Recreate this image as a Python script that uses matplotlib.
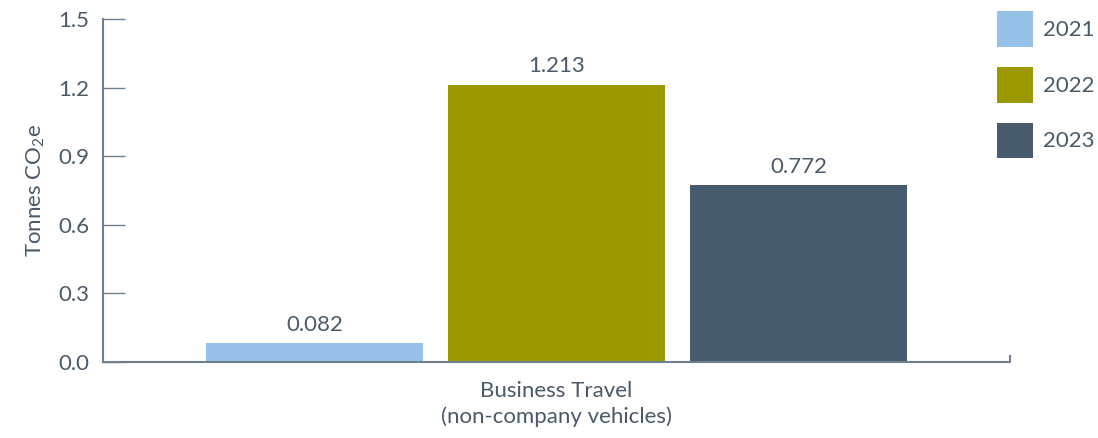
import numpy as np
import matplotlib.pyplot as plt

# data
category = "Business Travel\n(non-company vehicles)"
years = ["2021", "2022", "2023"]
values = [0.082, 1.213, 0.772]
colors = ["#97C1E8", "#9A9A00", "#475B6D"]

text_col = "#4A5A6A"
axis_col = "#6E7F8F"

plt.rcParams['font.family'] = ['Lato', 'DejaVu Sans']
plt.rcParams['mathtext.fontset'] = 'custom'
plt.rcParams['mathtext.rm'] = 'Lato'
plt.rcParams['mathtext.it'] = 'Lato'

fs = 16

fig = plt.figure(figsize=(10.98, 4.38), dpi=100)
ax = fig.add_axes([0.0938, 0.1735, 0.8261, 0.7831])

offsets = np.arange(len(years)) - 1
for off, v, c, yr in zip(offsets, values, colors, years):
    b = ax.bar(off, v, width=0.9, color=c, label=yr)
    ax.bar_label(b, labels=[f"{v:.3f}"], padding=6, fontsize=fs, color=text_col)

ax.set_xlim(-1.875, 1.875)
ax.set_ylim(0, 1.5)
ax.set_yticks(np.arange(0, 1.51, 0.3))
ax.set_yticklabels([f"{t:.1f}" for t in np.arange(0, 1.51, 0.3)])
ax.set_xticks([0])
ax.set_xticklabels([category], linespacing=1.3)

ax.tick_params(axis='y', direction='in', length=16, width=1, color=axis_col,
               labelsize=fs, labelcolor=text_col, pad=10)
ax.tick_params(axis='x', length=0, labelsize=fs, labelcolor=text_col, pad=14)
ax.set_xticks([1.875], minor=True)
ax.tick_params(axis='x', which='minor', direction='in', length=5, width=1.5, color=axis_col)

for s in ['top', 'right']:
    ax.spines[s].set_visible(False)
for s in ['left', 'bottom']:
    ax.spines[s].set_color(axis_col)
    ax.spines[s].set_linewidth(1.5)

ax.set_ylabel("Tonnes CO$_2$e", fontsize=fs, color=text_col, labelpad=8)

fig.legend(loc='upper left', bbox_to_anchor=(0.908, 0.975), frameon=False,
           fontsize=fs, handlelength=1.63, handleheight=2.1, labelspacing=0.9,
           handletextpad=0.45, labelcolor=text_col, borderpad=0, borderaxespad=0)

fig.savefig("out.png", dpi=100)
